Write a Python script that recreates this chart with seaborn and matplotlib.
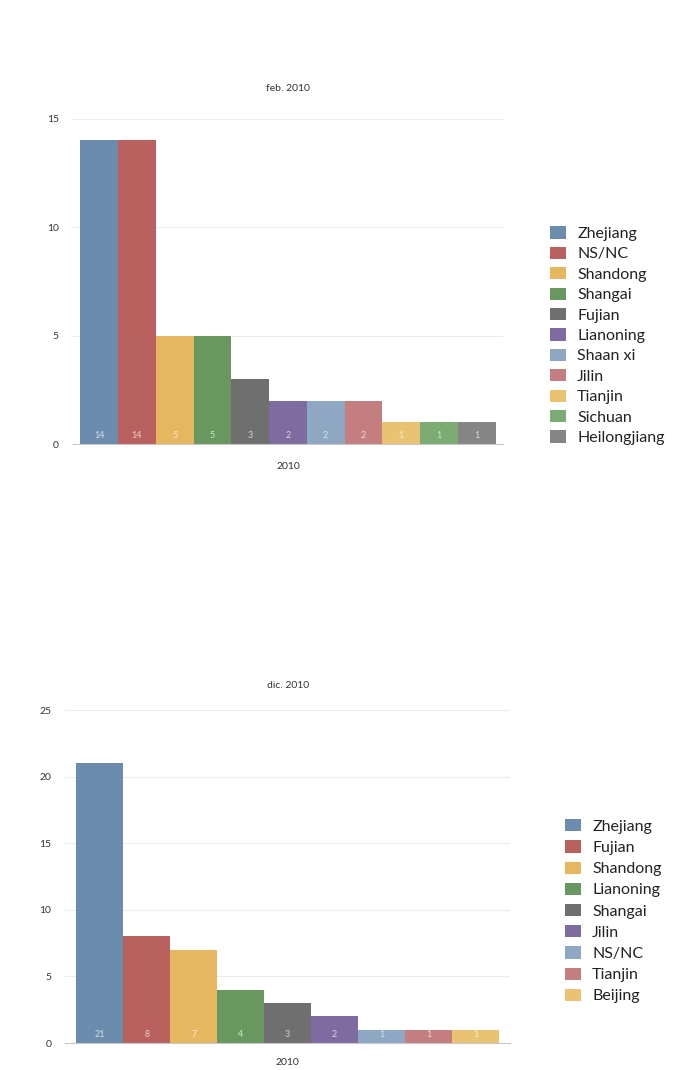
import matplotlib
matplotlib.use("Agg")
import matplotlib.pyplot as plt
import seaborn as sns
import pandas as pd

# data
feb_provinces = ["Zhejiang", "NS/NC", "Shandong", "Shangai", "Fujian", "Lianoning",
                 "Shaan xi", "Jilin", "Tianjin", "Sichuan", "Heilongjiang"]
feb_values = [14, 14, 5, 5, 3, 2, 2, 2, 1, 1, 1]

dic_provinces = ["Zhejiang", "Fujian", "Shandong", "Lianoning", "Shangai", "Jilin",
                 "NS/NC", "Tianjin", "Beijing"]
dic_values = [21, 8, 7, 4, 3, 2, 1, 1, 1]

year_label = "2010"

# palette goes by position, not by province
colors = ["#6b8cad", "#b9615f", "#e5b760", "#68985f", "#6f6f6f", "#7e6ba0",
          "#8ea8c3", "#c47e80", "#e9c272", "#7dab74", "#858585"]

sns.set_style("white")
plt.rcParams["font.family"] = ["Lato", "DejaVu Sans"]

fig = plt.figure(figsize=(6.93, 10.70), dpi=100)


def bar_chart(rect, names, values, title, ymax, title_pad, xpad, width, legend_xy, spacing):
    ax = fig.add_axes(rect)
    df = pd.DataFrame({"year": [year_label] * len(names), "province": names, "n": values})
    sns.barplot(data=df, x="year", y="n", hue="province", hue_order=names,
                palette=colors[:len(names)], width=width, gap=0, ax=ax,
                saturation=1, linewidth=0)
    ax.set_xlim(-0.5, 0.5)
    ax.set_ylim(0, ymax)
    ax.set_yticks(range(0, ymax + 1, 5))
    ax.yaxis.grid(True, color="#ececec", linewidth=0.8)
    ax.set_axisbelow(True)
    for s in ["top", "right", "left"]:
        ax.spines[s].set_visible(False)
    ax.spines["bottom"].set_color("#c8c8c8")
    ax.tick_params(axis="both", length=0, labelsize=7.5, colors="#333333", pad=10)
    ax.tick_params(axis="x", pad=xpad)
    ax.set_xlabel("")
    ax.set_ylabel("")
    ax.set_title(title, fontsize=7.5, color="#333333", pad=title_pad)

    # value labels at the base of each bar
    for cont in ax.containers:
        for p in cont:
            ax.annotate(f"{int(p.get_height())}", (p.get_x() + p.get_width() / 2, 0),
                        xytext=(0, 6), textcoords="offset points",
                        ha="center", va="center", fontsize=6.5, color="white", alpha=0.7)

    leg = ax.legend(loc="upper left", bbox_to_anchor=legend_xy, bbox_transform=fig.transFigure,
                    frameon=False, fontsize=11.5, handlelength=1.0, handleheight=0.8,
                    labelspacing=spacing, handletextpad=0.7, borderaxespad=0, borderpad=0)
    for t in leg.get_texts():
        t.set_color("#222222")
    return ax


bar_chart([0.105, 0.585, 0.621, 0.304], feb_provinces, feb_values, "feb. 2010",
          15, 20, 13, 0.965, (0.7937, 0.7885), 0.36)
bar_chart([0.094, 0.0252, 0.642, 0.3112], dic_provinces, dic_values, "dic. 2010",
          25, 16, 11, 0.95, (0.8153, 0.2345), 0.41)

fig.savefig("out.png", dpi=100, facecolor="white")
